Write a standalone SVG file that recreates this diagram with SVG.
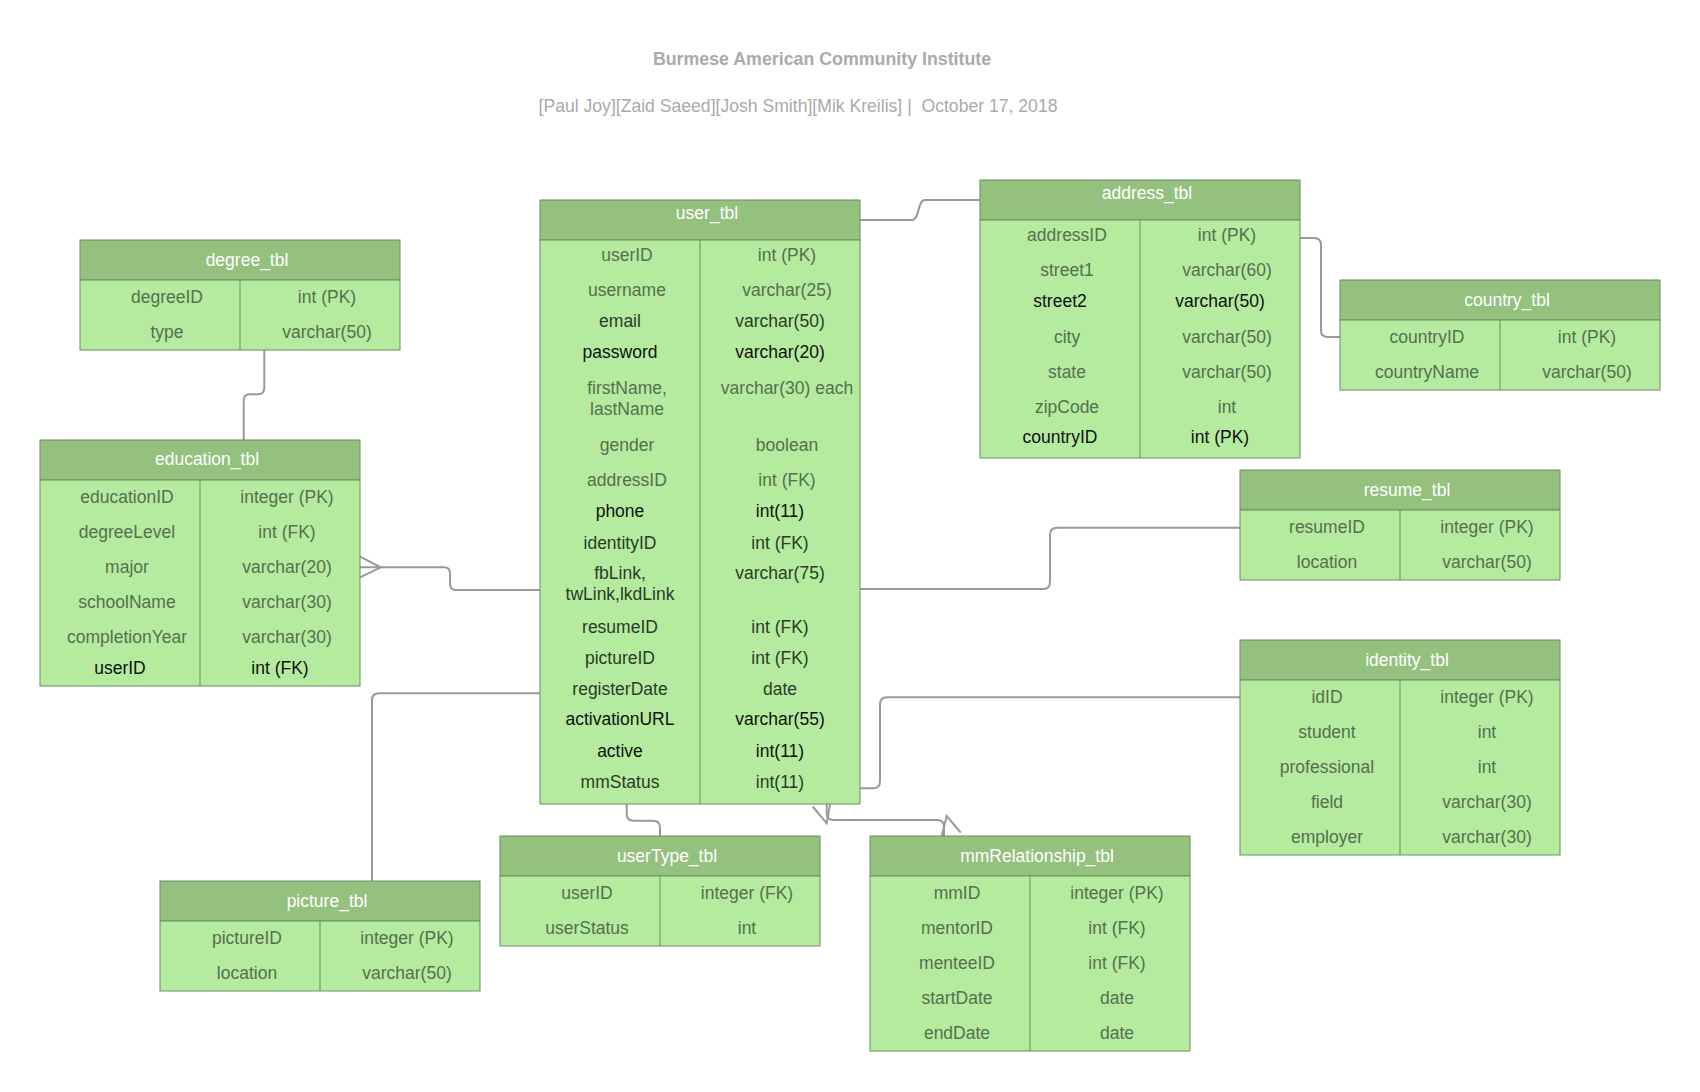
<svg xmlns="http://www.w3.org/2000/svg" width="1700" height="1092" viewBox="0 0 1700 1092">
<style>
text{font-family:"Liberation Sans",Arial,sans-serif;font-size:17.5px;text-anchor:middle}
.hd{fill:#94c17e;stroke:#6b8f5f;stroke-width:1}
.bd{fill:#b4eb9e;stroke:#6b8f5f;stroke-width:1}
.dv{stroke:#6b8f5f;stroke-width:1}
.ht{fill:#ffffff}
.g{fill:#56704f}
.d{fill:#2b3b29}
.k{fill:#111111}
.c{fill:none;stroke:#999999;stroke-width:2}
.ti{fill:#aaaaaa;font-weight:bold;font-size:17.8px}
.st{fill:#aaaaaa;font-size:17.6px}
</style>
<rect width="1700" height="1092" fill="#ffffff"/>
<g id="title">
<text class="ti" x="822" y="65">Burmese American Community Institute</text>
<text class="st" x="798" y="112" xml:space="preserve">[Paul Joy][Zaid Saeed][Josh Smith][Mik Kreilis] |  October 17, 2018</text>
</g>
<g id="connectors">
<path class="c" d="M860,220 H912 C920,220 917,200 925,200 H980"/>
<path class="c" d="M1300,238 H1314 Q1321,238 1321,245 V330 Q1321,337 1328,337 H1340"/>
<path class="c" d="M264.3,350 V388 Q264.3,394.3 258,394.3 H250 Q243.7,394.3 243.7,400.6 V440"/>
<path class="c" d="M360,567.3 H444 Q450,567.3 450,573.3 V584 Q450,590 456,590 H540"/>
<path class="c" d="M360,556.7 L380.7,567.3 L360,577.3"/>
<path class="c" d="M860,589 H1043 Q1050,589 1050,582 V534.7 Q1050,527.7 1057,527.7 H1240"/>
<path class="c" d="M540,693.3 H379 Q372,693.3 372,700.3 V881"/>
<path class="c" d="M860,788.3 H873 Q880,788.3 880,781.3 V704.3 Q880,697.3 887,697.3 H1240"/>
<path class="c" d="M626.7,804 V814 Q626.7,820.7 633.4,820.7 H653 Q660,820.7 660,827.7 V836"/>
<path class="c" d="M826.7,804 V813 Q826.7,820 833.7,820 H937 Q944,820 944,827 V836"/>
<path class="c" d="M812.7,806.5 L826.7,823.3 L830,804.5"/>
<path class="c" d="M941.7,836 L946.7,816 L960.7,832.7"/>
</g>
<g id="user_tbl">
<rect class="hd" x="540" y="200" width="320" height="40"/>
<rect class="bd" x="540" y="240" width="320" height="564"/>
<line class="dv" x1="700" y1="240" x2="700" y2="804"/>
<text class="ht" x="707" y="219">user_tbl</text>
<text class="g" x="627" y="260.7">userID</text><text class="g" x="787" y="260.7">int (PK)</text>
<text class="g" x="627" y="296">username</text><text class="g" x="787" y="296">varchar(25)</text>
<text class="d" x="620" y="326.7">email</text><text class="d" x="780" y="326.7">varchar(50)</text>
<text class="k" x="620" y="357.7">password</text><text class="k" x="780" y="357.7">varchar(20)</text>
<text class="g" x="627" y="394">firstName,</text><text class="g" x="627" y="415">lastName</text><text class="g" x="787" y="394">varchar(30) each</text>
<text class="g" x="627" y="451">gender</text><text class="g" x="787" y="451">boolean</text>
<text class="g" x="627" y="486">addressID</text><text class="g" x="787" y="486">int (FK)</text>
<text class="k" x="620" y="517.3">phone</text><text class="k" x="780" y="517.3">int(11)</text>
<text class="d" x="620" y="549.3">identityID</text><text class="d" x="780" y="549.3">int (FK)</text>
<text class="d" x="620" y="579">fbLink,</text><text class="d" x="620" y="600">twLink,lkdLink</text><text class="d" x="780" y="579">varchar(75)</text>
<text class="d" x="620" y="632.7">resumeID</text><text class="d" x="780" y="632.7">int (FK)</text>
<text class="d" x="620" y="664">pictureID</text><text class="d" x="780" y="664">int (FK)</text>
<text class="d" x="620" y="695">registerDate</text><text class="d" x="780" y="695">date</text>
<text class="k" x="620" y="725">activationURL</text><text class="k" x="780" y="725">varchar(55)</text>
<text class="k" x="620" y="756.7">active</text><text class="k" x="780" y="756.7">int(11)</text>
<text class="d" x="620" y="788">mmStatus</text><text class="d" x="780" y="788">int(11)</text>
</g>
<g id="address_tbl">
<rect class="hd" x="980" y="180" width="320" height="40"/>
<rect class="bd" x="980" y="220" width="320" height="238"/>
<line class="dv" x1="1140" y1="220" x2="1140" y2="458"/>
<text class="ht" x="1147" y="199">address_tbl</text>
<text class="g" x="1067" y="240.7">addressID</text><text class="g" x="1227" y="240.7">int (PK)</text>
<text class="g" x="1067" y="276">street1</text><text class="g" x="1227" y="276">varchar(60)</text>
<text class="k" x="1060" y="306.7">street2</text><text class="k" x="1220" y="306.7">varchar(50)</text>
<text class="g" x="1067" y="342.7">city</text><text class="g" x="1227" y="342.7">varchar(50)</text>
<text class="g" x="1067" y="377.7">state</text><text class="g" x="1227" y="377.7">varchar(50)</text>
<text class="g" x="1067" y="412.7">zipCode</text><text class="g" x="1227" y="412.7">int</text>
<text class="k" x="1060" y="443.3">countryID</text><text class="k" x="1220" y="443.3">int (PK)</text>
</g>
<g id="country_tbl">
<rect class="hd" x="1340" y="280" width="320" height="40"/>
<rect class="bd" x="1340" y="320" width="320" height="70"/>
<line class="dv" x1="1500" y1="320" x2="1500" y2="390"/>
<text class="ht" x="1507" y="306">country_tbl</text>
<text class="g" x="1427" y="342.7">countryID</text><text class="g" x="1587" y="342.7">int (PK)</text>
<text class="g" x="1427" y="378.3">countryName</text><text class="g" x="1587" y="378.3">varchar(50)</text>
</g>
<g id="degree_tbl">
<rect class="hd" x="80" y="240" width="320" height="40"/>
<rect class="bd" x="80" y="280" width="320" height="70"/>
<line class="dv" x1="240" y1="280" x2="240" y2="350"/>
<text class="ht" x="247" y="266">degree_tbl</text>
<text class="g" x="167" y="303.3">degreeID</text><text class="g" x="327" y="303.3">int (PK)</text>
<text class="g" x="167" y="338">type</text><text class="g" x="327" y="338">varchar(50)</text>
</g>
<g id="education_tbl">
<rect class="hd" x="40" y="440" width="320" height="40"/>
<rect class="bd" x="40" y="480" width="320" height="206"/>
<line class="dv" x1="200" y1="480" x2="200" y2="686"/>
<text class="ht" x="207" y="465">education_tbl</text>
<text class="g" x="127" y="503.3">educationID</text><text class="g" x="287" y="503.3">integer (PK)</text>
<text class="g" x="127" y="538.3">degreeLevel</text><text class="g" x="287" y="538.3">int (FK)</text>
<text class="g" x="127" y="572.7">major</text><text class="g" x="287" y="572.7">varchar(20)</text>
<text class="g" x="127" y="607.7">schoolName</text><text class="g" x="287" y="607.7">varchar(30)</text>
<text class="g" x="127" y="642.7">completionYear</text><text class="g" x="287" y="642.7">varchar(30)</text>
<text class="k" x="120" y="674">userID</text><text class="k" x="280" y="674">int (FK)</text>
</g>
<g id="resume_tbl">
<rect class="hd" x="1240" y="470" width="320" height="40"/>
<rect class="bd" x="1240" y="510" width="320" height="70"/>
<line class="dv" x1="1400" y1="510" x2="1400" y2="580"/>
<text class="ht" x="1407" y="495.5">resume_tbl</text>
<text class="g" x="1327" y="533.3">resumeID</text><text class="g" x="1487" y="533.3">integer (PK)</text>
<text class="g" x="1327" y="568.3">location</text><text class="g" x="1487" y="568.3">varchar(50)</text>
</g>
<g id="identity_tbl">
<rect class="hd" x="1240" y="640" width="320" height="40"/>
<rect class="bd" x="1240" y="680" width="320" height="175"/>
<line class="dv" x1="1400" y1="680" x2="1400" y2="855"/>
<text class="ht" x="1407" y="665.5">identity_tbl</text>
<text class="g" x="1327" y="703.3">idID</text><text class="g" x="1487" y="703.3">integer (PK)</text>
<text class="g" x="1327" y="738.3">student</text><text class="g" x="1487" y="738.3">int</text>
<text class="g" x="1327" y="773.3">professional</text><text class="g" x="1487" y="773.3">int</text>
<text class="g" x="1327" y="808.3">field</text><text class="g" x="1487" y="808.3">varchar(30)</text>
<text class="g" x="1327" y="843.3">employer</text><text class="g" x="1487" y="843.3">varchar(30)</text>
</g>
<g id="picture_tbl">
<rect class="hd" x="160" y="881" width="320" height="40"/>
<rect class="bd" x="160" y="921" width="320" height="70"/>
<line class="dv" x1="320" y1="921" x2="320" y2="991"/>
<text class="ht" x="327" y="906.5">picture_tbl</text>
<text class="g" x="247" y="944">pictureID</text><text class="g" x="407" y="944">integer (PK)</text>
<text class="g" x="247" y="979">location</text><text class="g" x="407" y="979">varchar(50)</text>
</g>
<g id="userType_tbl">
<rect class="hd" x="500" y="836" width="320" height="40"/>
<rect class="bd" x="500" y="876" width="320" height="70"/>
<line class="dv" x1="660" y1="876" x2="660" y2="946"/>
<text class="ht" x="667" y="861.5">userType_tbl</text>
<text class="g" x="587" y="899">userID</text><text class="g" x="747" y="899">integer (FK)</text>
<text class="g" x="587" y="934">userStatus</text><text class="g" x="747" y="934">int</text>
</g>
<g id="mmRelationship_tbl">
<rect class="hd" x="870" y="836" width="320" height="40"/>
<rect class="bd" x="870" y="876" width="320" height="175"/>
<line class="dv" x1="1030" y1="876" x2="1030" y2="1051"/>
<text class="ht" x="1037" y="861.5">mmRelationship_tbl</text>
<text class="g" x="957" y="899">mmID</text><text class="g" x="1117" y="899">integer (PK)</text>
<text class="g" x="957" y="934">mentorID</text><text class="g" x="1117" y="934">int (FK)</text>
<text class="g" x="957" y="969">menteeID</text><text class="g" x="1117" y="969">int (FK)</text>
<text class="g" x="957" y="1004">startDate</text><text class="g" x="1117" y="1004">date</text>
<text class="g" x="957" y="1039">endDate</text><text class="g" x="1117" y="1039">date</text>
</g>
</svg>
